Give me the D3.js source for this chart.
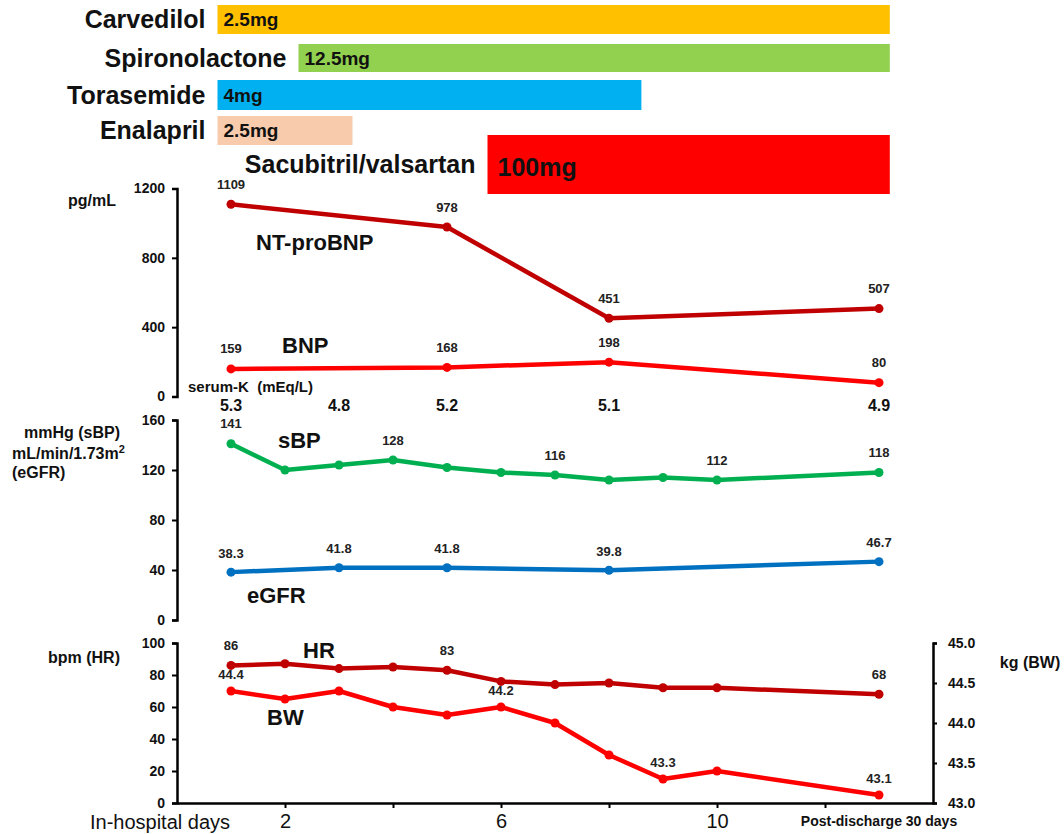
<!DOCTYPE html>
<html><head><meta charset="utf-8">
<script src="https://cdn.jsdelivr.net/npm/d3@7"></script>
<style>
html,body{margin:0;padding:0;background:#fff;}
text{font-family:"Liberation Sans",Arial,sans-serif;}
</style></head>
<body><svg id="c" width="1064" height="834"></svg>
<script>
// ---- data ----
const drugNames = ["Carvedilol","Spironolactone","Torasemide","Enalapril","Sacubitril/valsartan"];
const drugDoses = ["2.5mg","12.5mg","4mg","2.5mg","100mg"];
const drugStart = [0.75, 2.25, 0.75, 0.75, 5.75];
const drugEnd   = [13.2, 13.2, 8.6, 3.25, 13.2];
const drugColors = ["#FFC000","#92D050","#00B0F0","#F8CBAD","#FF0000"];

const bnpDays = [1,5,8,13];
const ntProBNP = [1109, 978, 451, 507];
const bnp = [159, 168, 198, 80];

const kDays = [1,3,5,8,13];
const serumK = ["5.3","4.8","5.2","5.1","4.9"];

const dailyDays = [1,2,3,4,5,6,7,8,9,10,13];
const sbp = [141,120,124,128,122,118,116,112,114,112,118];
const sbpLabelDays = [1,4,7,10,13];

const egfrDays = [1,3,5,8,13];
const egfr = [38.3,41.8,41.8,39.8,46.7];

const hr = [86,87,84,85,83,76,74,75,72,72,68];
const hrLabelDays = [1,5,13];
const bw = [44.4,44.3,44.4,44.2,44.1,44.2,44.0,43.6,43.3,43.4,43.1];
const bwLabelDays = [1,6,9,13];

const xTicks = [2,4,6,8,10,12];
const xTickLabels = {2:"2",6:"6",10:"10"};
const bnpTicks = [0,400,800,1200];
const sbpTicks = [0,40,80,120,160];
const hrTicks = [0,20,40,60,80,100];
const bwTicks = [43.0,43.5,44.0,44.5,45.0];

// ---- layout ----
const svg = d3.select("#c");
const FONT = '"Liberation Sans",Arial,sans-serif';
const x = d3.scaleLinear().domain([0,14]).range([177,933]);
const yBNP = d3.scaleLinear().domain([0,1200]).range([396.5,188.5]);
const ySBP = d3.scaleLinear().domain([0,160]).range([620,420]);
const yHR = d3.scaleLinear().domain([0,100]).range([803,643]);
const yBW = d3.scaleLinear().domain([43,45]).range([803,643]);

// drug bars
const barTop = [5,44,80,116,135];
const barH = [29,28,30,29,59];
drugNames.forEach((n,i)=>{
  const x0 = x(drugStart[i]), x1 = x(drugEnd[i]);
  svg.append("rect").attr("x",x0).attr("y",barTop[i]).attr("width",x1-x0).attr("height",barH[i]).attr("fill",drugColors[i]);
  const cy = barTop[i]+barH[i]/2;
  const labY = i===4 ? 164 : cy;
  svg.append("text").attr("x",x0-12).attr("y",labY).attr("dy","0.35em").attr("text-anchor","end")
    .attr("font-size",25).attr("font-weight","bold").attr("fill","#111").text(n);
  svg.append("text").attr("x",x0+(i===4?10:6)).attr("y",cy+(i===4?3:0)).attr("dy","0.35em")
    .attr("font-size",i===4?25:19).attr("font-weight","bold").attr("fill","#111").text(drugDoses[i]);
});

function leftAxis(scale, ticks){
  const g = svg.append("g").attr("transform","translate(177,0)")
    .call(d3.axisLeft(scale).tickValues(ticks).tickSize(5).tickSizeOuter(5).tickPadding(7).tickFormat(d3.format("d")));
  g.select(".domain").attr("stroke","#000").attr("stroke-width",2.5);
  g.selectAll(".tick line").attr("stroke","#000").attr("stroke-width",2);
  g.selectAll(".tick text").attr("font-size",14).attr("font-weight","bold").attr("font-family",FONT).attr("fill","#111");
  return g;
}
leftAxis(yBNP, bnpTicks);
leftAxis(ySBP, sbpTicks);
leftAxis(yHR, hrTicks);

// bottom axis
const gb = svg.append("g").attr("transform","translate(0,803)")
  .call(d3.axisBottom(x).tickValues(xTicks).tickSize(5).tickSizeOuter(0).tickPadding(6).tickFormat(d=>xTickLabels[d]||""));
gb.select(".domain").attr("stroke","#000").attr("stroke-width",2.5);
gb.selectAll(".tick line").attr("stroke","#000").attr("stroke-width",2);
gb.selectAll(".tick text").attr("font-size",20).attr("font-family",FONT).attr("fill","#111");

// right axis
const gr = svg.append("g").attr("transform","translate(933,0)")
  .call(d3.axisRight(yBW).tickValues(bwTicks).tickSize(4).tickSizeOuter(4).tickPadding(11).tickFormat(d3.format(".1f")));
gr.select(".domain").attr("stroke","#000").attr("stroke-width",2.5);
gr.selectAll(".tick line").attr("stroke","#000").attr("stroke-width",2);
gr.selectAll(".tick text").attr("font-size",14).attr("font-weight","bold").attr("font-family",FONT).attr("fill","#111");

// series
function series(days, vals, yScale, color, labelDays, fmt, off){
  const pts = days.map((d,i)=>[x(d), yScale(vals[i]), d, vals[i]]);
  svg.append("path").attr("d", d3.line()(pts.map(p=>[p[0],p[1]])))
    .attr("fill","none").attr("stroke",color).attr("stroke-width",4.5).attr("stroke-linejoin","round");
  svg.selectAll(null).data(pts).enter().append("circle")
    .attr("cx",p=>p[0]).attr("cy",p=>p[1]).attr("r",4.5).attr("fill",color);
  svg.selectAll(null).data(pts.filter(p=>labelDays.includes(p[2]))).enter().append("text")
    .attr("x",p=>p[0]).attr("y",p=>p[1]-off).attr("dy","0.35em").attr("text-anchor","middle")
    .attr("font-size",13).attr("font-weight","bold").attr("fill","#222").text(p=>fmt(p[3]));
}
const fInt = d3.format("d"), f1 = d3.format(".1f");
series(bnpDays, ntProBNP, yBNP, "#C00000", bnpDays, fInt, 20);
series(bnpDays, bnp, yBNP, "#FF0000", bnpDays, fInt, 20);
series(dailyDays, sbp, ySBP, "#00B050", sbpLabelDays, fInt, 20);
series(egfrDays, egfr, ySBP, "#0070C0", egfrDays, f1, 19);
series(dailyDays, hr, yHR, "#C00000", hrLabelDays, fInt, 20);
series(dailyDays, bw, yBW, "#FF0000", bwLabelDays, f1, 17);

// serum K
svg.append("text").attr("x",188).attr("y",387).attr("dy","0.35em").attr("font-size",15).attr("font-weight","bold").attr("fill","#111")
  .attr("xml:space","preserve").text("serum-K  (mEq/L)");
svg.selectAll(null).data(kDays.map((d,i)=>[d,serumK[i]])).enter().append("text")
  .attr("x",d=>x(d[0])).attr("y",405).attr("dy","0.35em").attr("text-anchor","middle")
  .attr("font-size",16).attr("font-weight","bold").attr("fill","#111").text(d=>d[1]);

// series names
function lab(t,xx,yy,size,anchor){
  return svg.append("text").attr("x",xx).attr("y",yy).attr("dy","0.35em").attr("text-anchor",anchor||"start")
    .attr("font-size",size).attr("font-weight","bold").attr("fill","#111").text(t);
}
lab("NT-proBNP",256,242,22);
lab("BNP",282,345,22);
lab("sBP",278,440,22);
lab("eGFR",247,595,22);
lab("HR",303,650,22);
lab("BW",267,717,22);

// unit labels
lab("pg/mL",92,200,16,"middle");
lab("mmHg (sBP)",72,432,16,"middle");
const t2 = lab("mL/min/1.73m",12,453,16);
t2.append("tspan").attr("font-size",11).attr("dy","-0.5em").text("2");
lab("(eGFR)",12,472,16);
lab("bpm (HR)",84,657,16,"middle");
lab("kg (BW)",1030,662,16,"middle");

// x axis texts
svg.append("text").attr("x",160).attr("y",822).attr("dy","0.35em").attr("text-anchor","middle")
  .attr("font-size",20).attr("fill","#111").text("In-hospital days");
svg.append("text").attr("x",x(13)).attr("y",821).attr("dy","0.35em").attr("text-anchor","middle")
  .attr("font-size",14).attr("font-weight","bold").attr("fill","#111").text("Post-discharge 30 days");
</script>
</body></html>
